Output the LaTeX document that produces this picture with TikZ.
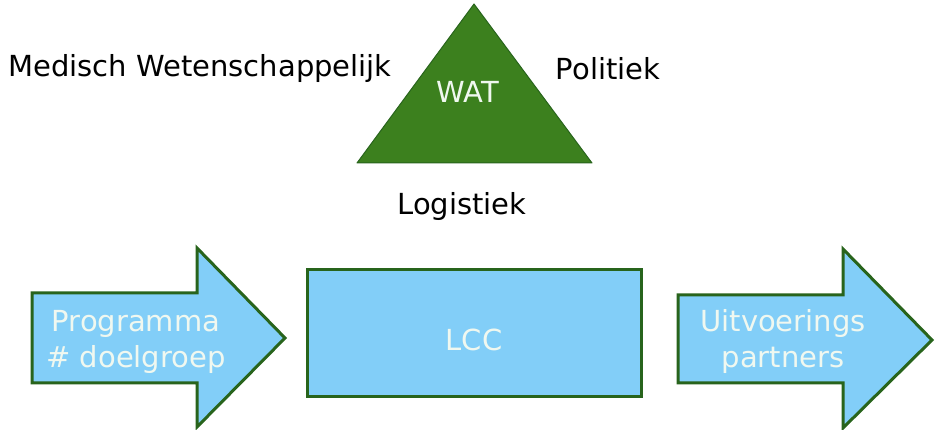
\documentclass[tikz,border=0pt]{standalone}
\usepackage{fontspec}
\setmainfont{DejaVu Sans}
\definecolor{trigreen}{RGB}{60,128,30}
\definecolor{edgegreen}{RGB}{40,100,28}
\definecolor{boxblue}{RGB}{130,206,248}
\definecolor{paletext}{RGB}{240,248,240}
\tikzset{
  x=1pt, y=-1pt,
  lbl/.style={font=\fontsize{29}{36}\selectfont, text=black, inner sep=0pt},
  intext/.style={font=\fontsize{29}{36}\selectfont, text=paletext, inner sep=0pt, align=center},
  bluebox/.style={fill=boxblue, draw=edgegreen, line width=3pt, line join=miter},
  tri/.style={fill=trigreen, draw=edgegreen, line width=1pt, line join=round}
}
\begin{document}
\begin{tikzpicture}
\useasboundingbox (0,0) rectangle (935,430);
% triangle
\filldraw[tri] (474,4) -- (592,163) -- (357,163) -- cycle;
\node[intext, anchor=base] (wat) at (468,103) {WAT};
% labels
\node[lbl, anchor=base] (med) at (200,77) {Medisch Wetenschappelijk};
\node[lbl, anchor=base] (pol) at (608,80) {Politiek};
\node[lbl, anchor=base] (log) at (462,215) {Logistiek};
% left arrow
\draw[bluebox] (32,293) -- (197,293) -- (197,248) -- (285,338) -- (197,427) -- (197,383) -- (32,383) -- cycle;
\node[intext] (prog) at (136,342) {Programma\\\# doelgroep};
% LCC box
\draw[bluebox] (307,270) rectangle (641,397);
\node[intext] (lcc) at (474,340) {LCC};
% right arrow
\draw[bluebox] (678,295) -- (843,295) -- (843,249) -- (932,340) -- (843,428) -- (843,383) -- (678,383) -- cycle;
\node[intext] (uit) at (783,342) {Uitvoerings\\partners};
\end{tikzpicture}
\end{document}
